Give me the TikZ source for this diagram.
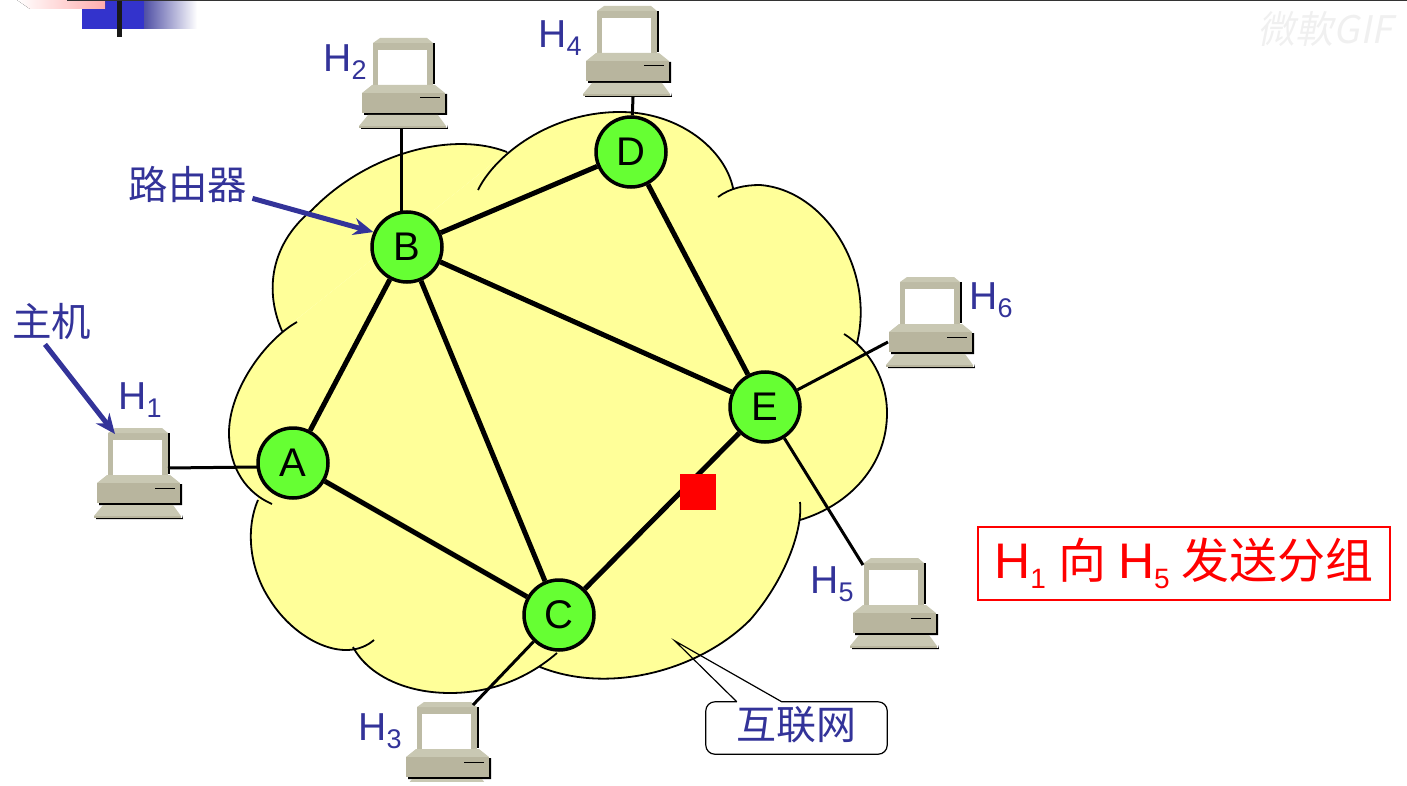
\documentclass[tikz,border=0pt]{standalone}
\usepackage{fontspec}
\setmainfont{Liberation Sans}
\newfontfamily\cjk{Noto Sans CJK SC}
\newfontfamily\markfont[FakeSlant=0.2]{Noto Sans CJK TC}
\usetikzlibrary{arrows.meta}
\definecolor{cloudfill}{HTML}{FFFF99}
\definecolor{routerfill}{HTML}{66FF33}
\definecolor{labelblue}{HTML}{333399}
\definecolor{headerblue}{HTML}{3333CC}
\definecolor{pclight}{HTML}{C9C8B3}
\definecolor{pcbody}{HTML}{B8B59E}
\definecolor{pcframe}{HTML}{BDBBA5}
\newcommand{\hsub}[1]{\raisebox{-.2em}{\fontsize{27}{27}\selectfont #1}}
\newcommand{\capsub}[1]{\raisebox{-.2em}{\fontsize{28}{28}\selectfont #1}}
\newcommand{\lobeA}{(282,331) .. controls (262,285) and (275,240) .. (312,210) .. controls (365,155) and (450,130) .. (507,152)}
\newcommand{\lobeB}{(478,190) .. controls (495,155) and (550,112) .. (620,112) .. controls (680,112) and (725,150) .. (733,188)}
\newcommand{\lobeC}{(718,197) .. controls (730,188) and (745,185) .. (760,185) .. controls (825,190) and (875,270) .. (857,343)}
\newcommand{\lobeD}{(844,334) .. controls (870,350) and (887,380) .. (887,413) .. controls (887,465) and (850,505) .. (800,520)}
\newcommand{\lobeE}{(800,502) .. controls (803,530) and (785,580) .. (750,620) .. controls (700,670) and (610,695) .. (540,667)}
\newcommand{\lobeF}{(557,653) .. controls (520,685) and (480,693) .. (450,693) .. controls (405,693) and (368,675) .. (353,647)}
\newcommand{\lobeG}{(258,500) .. controls (245,530) and (250,570) .. (270,600) .. controls (295,640) and (345,665) .. (374,640)}
\newcommand{\lobeH}{(272,504) .. controls (240,490) and (229,460) .. (229,433) .. controls (229,390) and (265,340) .. (297,322)}
\tikzset{
  x=1pt, y=-1pt,
  router/.style={circle, draw=black, line width=3.5pt, fill=routerfill, minimum size=70pt, inner sep=0pt, font=\fontsize{40}{40}\selectfont},
  hostlabel/.style={text=labelblue, inner sep=0pt, font=\fontsize{39}{39}\selectfont},
  cnlabel/.style={text=labelblue, inner sep=0pt, font=\cjk\fontsize{39.5}{39.5}\selectfont},
  trunk/.style={line width=5pt},
  stub/.style={line width=3pt},
  bluearrow/.style={draw=labelblue, line width=5pt, -{Stealth[length=20pt,width=17pt]}},
  cloudline/.style={line width=1.8pt},
  computer/.pic={
    % shadow first
    \fill[black] (60,5) -- (62,5) -- (62,46) -- (60,46) -- cycle;
    \fill[black] (72,56) -- (74,56) -- (74,77) -- (-9,77) -- (-9,75) -- (72,75) -- cycle;
    \fill[black] (-12,90) -- (74,90) -- (74,87) -- (75,91) -- (-12,91) -- cycle;
    \fill[pcframe] (0,5) -- (60,5) -- (60,51) -- (0,51) -- cycle;
    \fill[pclight] (0,5) -- (7,0) -- (54,0) -- (60,5) -- cycle;
    \fill[white] (5,12) rectangle (54,47);
    \fill[pclight] (-11,55) -- (-1,47) -- (62,47) -- (72,55) -- cycle;
    \fill[pcbody] (-11,55) rectangle (72,75);
    \draw[line width=1pt] (47,60) -- (67,60);
    \fill[pclight] (-14,88) -- (-5,77) -- (65,77) -- (73,88) -- cycle;
    \fill[pcbody] (-14,88) rectangle (73,90);
    \coordinate (-top) at (7,6);
  }
}
\begin{document}
\begin{tikzpicture}
  \useasboundingbox (0,0) rectangle (1407,786);
  % slide header
  \fill[headerblue] (82,0) rectangle (144,29);
  \fill[left color=headerblue!70!black!80, right color=white] (144,0) rectangle (197,29);
  \fill[left color=white, right color=red!32] (17,0) -- (105,0) -- (105,9) -- (30,9) -- cycle;
  \fill[black!90] (117,0) rectangle (122,37);
  \fill[black!80] (67,0) rectangle (1407,1);
  \node[inner sep=0pt, text=black!6, font=\markfont\fontsize{38}{38}\selectfont] (mark) at (1325,29) {微軟GIF};
  % cloud
  \fill[cloudfill] (282,331) -- (507,152) -- (733,188) -- (857,343) -- (800,520) -- (540,667) -- (353,647) -- (258,500) -- cycle;
  \fill[cloudfill] \lobeA \lobeB \lobeC \lobeD \lobeE \lobeF \lobeG \lobeH;
  \draw[cloudline] \lobeA \lobeB \lobeC \lobeD \lobeE \lobeF \lobeG \lobeH;
  % routers
  \node[router] (A) at (293,463) {A};
  \node[router] (B) at (407,247) {B};
  \node[router] (C) at (559,615) {C};
  \node[router] (D) at (631,152) {D};
  \node[router] (E) at (765,407) {E};
  % hosts
  \pic (h1) at (108,428) {computer};
  \pic (h2) at (373,38) {computer};
  \begin{scope}
    \clip (0,0) rectangle (1407,781);
    \pic (h3) at (417,702) {computer};
  \end{scope}
  \pic (h4) at (597,6) {computer};
  \pic (h5) at (864,558) {computer};
  \pic (h6) at (900,277) {computer};
  \coordinate (p1) at (168,468);
  \coordinate (p1b) at (258,467);
  \coordinate (p2) at (401.5,128);
  \coordinate (p2b) at (401.5,214);
  \coordinate (p3) at (473,705);
  \coordinate (p4) at (633,97);
  \coordinate (p5) at (863,565);
  \coordinate (p6) at (888,342);
  \foreach \u/\v in {A/B, B/C, B/D, B/E, D/E, A/C, C/E}
    \draw[trunk] (\u) -- (\v);
  \draw[stub] (p1) -- (p1b);
  \draw[stub] (p2) -- (p2b);
  \draw[stub] (p3) -- (C);
  \draw[stub] (p4) -- (D);
  \draw[stub] (p5) -- (E);
  \draw[stub] (p6) -- (E);
  % packet
  \node[fill=red, minimum size=36pt, inner sep=0pt] (packet) at (698,491.5) {};
  % labels
  \node[hostlabel] (l1) at (140,400) {H\hsub{1}};
  \node[hostlabel] (l2) at (345,62) {H\hsub{2}};
  \node[hostlabel] (l3) at (380,731) {H\hsub{3}};
  \node[hostlabel] (l4) at (560,38) {H\hsub{4}};
  \node[hostlabel] (l5) at (832,584) {H\hsub{5}};
  \node[hostlabel] (l6) at (991,300) {H\hsub{6}};
  \node[cnlabel] (routerlabel) at (188,184) {路由器};
  \node[cnlabel] (hostname) at (52,321) {主机};
  \draw[bluearrow] ([xshift=5pt,yshift=4pt]routerlabel.south east) -- (B.156);
  \draw[bluearrow] ([xshift=-7pt,yshift=-5pt]hostname.south) -- (h1-top);
  % callout
  \coordinate (tip) at (675,641);
  \node[fill=white, minimum width=181pt, minimum height=52pt, inner sep=0pt, text=labelblue, font=\cjk\fontsize{40}{40}\selectfont] (net) at (796.5,728) {\raisebox{10pt}{互联网}};
  \draw[line width=1.2pt] ([xshift=31pt]net.north west) -- (tip) -- ([xshift=76pt]net.north west) [rounded corners=9pt] -- (net.north east) -- (net.south east) -- (net.south west) -- (net.north west) -- ([xshift=31pt]net.north west);
  % caption
  \node[draw=red, line width=2pt, minimum width=412pt, minimum height=73pt, inner sep=0pt, text=red, font=\fontsize{50}{50}\selectfont] (caption) at (1184,563.5) {H\capsub{1}\hspace{12pt}{\cjk\fontsize{48}{48}\selectfont 向}\hspace{12pt}H\capsub{5}\hspace{12pt}{\cjk\fontsize{48}{48}\selectfont 发送分组}};
\end{tikzpicture}
\end{document}
